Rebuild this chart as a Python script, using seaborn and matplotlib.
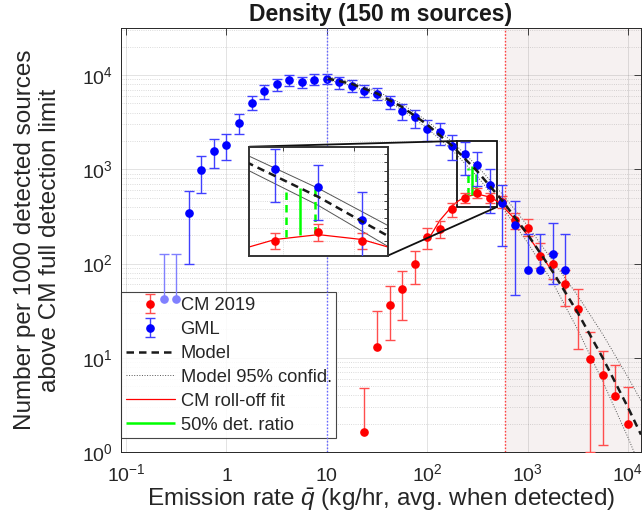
import numpy as np
import matplotlib
matplotlib.use('Agg')
import matplotlib.pyplot as plt
import seaborn as sns
from matplotlib.ticker import LogLocator, NullLocator, FixedLocator
from mpl_toolkits.axes_grid1.inset_locator import mark_inset

# ---------------- data ----------------
GML_X = [0.422, 0.562, 0.750, 1.0, 1.334, 1.778, 2.371, 3.162, 4.217, 5.623, 7.499,
         10.0, 13.34, 17.78, 23.71, 31.62, 42.17, 56.23, 74.99, 100.0, 133.4, 177.8,
         237.1, 316.2, 421.7, 562.3, 749.9, 1000.0, 1334.0, 1778.0, 2371.0]
GML_Y = [340, 978, 1582, 1832, 3134, 5110, 6730, 8050, 8880, 8390, 8950,
         9080, 8390, 7740, 6860, 6340, 5240, 4200, 3560, 2660, 2470, 1770,
         1445, 1100, 680, 434, 255, 84.5, 84.5, 127, 84.5]
GML_LO = [99, 567, 1045, 1271, 2400, 4236, 5627, 6860, 7740, 7250, 7940,
          8050, 7180, 6680, 5870, 5500, 4370, 3310, 2750, 2000, 1830, 1250,
          880, 673, 348, 154, 46.6, None, None, 60, None]
GML_HI = [582, 1387, 2085, 2400, 3840, 6030, 7850, 9180, 10150, 9660, 10190,
          10350, 9570, 8820, 7940, 7370, 6050, 4990, 4270, 3310, 3100, 2317,
          1935, 1530, 1020, 690, 459, 205, 205, 270, 205]
# faint GML bins (upper bound only)
GML_FAINT_X = [0.237, 0.316]
GML_FAINT_Y = [42, 42]
GML_FAINT_LO = [None, None]
GML_FAINT_HI = [126, 126]

CM_X = [23.71, 31.62, 42.17, 56.23, 74.99, 100.0, 133.4, 177.8, 237.1, 316.2, 421.7,
        562.3, 749.9, 1000.0, 1334.0, 1778.0, 2371.0, 3162.0, 4217.0, 5623.0, 7499.0, 10000.0]
CM_Y = [1.62, 13.0, 36.2, 53.5, 99.3, 190, 233, 375, 498, 567, 498,
        450, 288, 239, 121, 98, 60, 33, 9.7, 6.5, 3.9, 2.0]
CM_LO = [None, None, 15.3, 24.9, 60, 142, 185, 310, 440, 494, 440,
         390, 230, 195, 90, 69, 35.6, 12.3, 1.0, 1.2, None, None]
CM_HI = [4.8, 31.3, 57.2, 82.5, 136, 236, 284, 434, 558, 641, 560,
         515, 340, 294, 165, 128, 84.5, 53.5, 18.6, 11.9, 8.3, 4.9]

MODEL_X = [10, 17.78, 31.62, 56.23, 100, 177.8, 316.2, 562.3, 1000, 1778, 3162, 5623, 10000, 13490]
MODEL_Y = [9250, 8060, 6390, 4590, 2990, 1770, 952, 463, 205, 82.2, 30.1, 9.93, 2.98, 1.53]
CONF_HI = [9575, 8440, 6770, 4920, 3260, 1963, 1080, 544, 252, 107, 45.6, 17.7, 6.23, 3.51]
CONF_LO = [8935, 7700, 6030, 4280, 2740, 1596, 839, 394, 167, 63.1, 19.9, 5.58, 1.43, 0.668]

FIT_X = [100, 133.4, 177.8, 200.4, 237.1, 316.2, 421.7, 498.9, 562.3, 749.9, 1000, 1334, 1778]
FIT_Y = [172.6, 286, 409, 456, 508, 546, 508, 456, 409, 295, 200, 129, 81.3]

GREEN_X = [280]
GREEN_LO = [540]
GREEN_HI = [1081]
GREEN_DASH_X = [255, 309]
GREEN_DASH_LO = [530, 551]
GREEN_DASH_HI = [1045, 1091]

DET_LIMIT = 600
REF_X = 10

XTICKS = [0.1, 1, 10, 100, 1000, 10000]
XTICKLABELS = [r'$10^{-1}$', r'$1$', r'$10$', r'$10^{2}$', r'$10^{3}$', r'$10^{4}$']
YTICKS = [1, 10, 100, 1000, 10000]
YTICKLABELS = [r'$10^{0}$', r'$10^{1}$', r'$10^{2}$', r'$10^{3}$', r'$10^{4}$']

# ---------------- style ----------------
sns.set_theme(style='white')
plt.rcParams['font.family'] = ['Liberation Sans', 'DejaVu Sans']
plt.rcParams['mathtext.fontset'] = 'custom'
plt.rcParams['mathtext.rm'] = 'Liberation Sans'
plt.rcParams['mathtext.it'] = 'Liberation Sans:italic'
plt.rcParams['mathtext.bf'] = 'Liberation Sans:bold'
FS_TICK = 14
FS_LAB = 17.5
FS_TITLE = 16.5
FS_LEG = 13.2
AXC = '#262626'

BLUE = (0, 0, 1)
BLUE_E = (0.25, 0.25, 1.0)
RED = (1, 0, 0)
RED_E = (1.0, 0.3, 0.3)
GREEN = (0, 1, 0)


def errbars(a, x, y, lo, hi, color, ecolor, ms=5.2, z=3):
    x = np.asarray(x, float)
    y = np.asarray(y, float)
    lo = np.array([np.nan if v is None else v for v in lo], float)
    hi = np.asarray(hi, float)
    full = ~np.isnan(lo)
    kw = dict(fmt='o', color=color, mec=color, ecolor=ecolor, ms=ms, capsize=3.6,
              elinewidth=1.0, capthick=1.0, zorder=z)
    cont = None
    if full.any():
        cont = a.errorbar(x[full], y[full], yerr=[y[full] - lo[full], hi[full] - y[full]], **kw)
    part = ~full
    if part.any():
        c2 = a.errorbar(x[part], y[part], yerr=[np.zeros(part.sum()), hi[part] - y[part]], **kw)
        c2.lines[1][0].set_visible(False)
        if cont is None:
            cont = c2
    return cont


def draw_curves(a, conf_ls):
    sns.lineplot(x=MODEL_X, y=CONF_LO, ax=a, color='#555555', lw=0.7, linestyle=conf_ls,
                 errorbar=None, sort=False, zorder=2)
    sns.lineplot(x=MODEL_X, y=CONF_HI, ax=a, color='#555555', lw=0.7, linestyle=conf_ls,
                 errorbar=None, sort=False, zorder=2)
    h_conf = a.lines[-1]
    sns.lineplot(x=FIT_X, y=FIT_Y, ax=a, color='red', lw=0.9, errorbar=None, sort=False,
                 zorder=2.5)
    h_fit = a.lines[-1]
    sns.lineplot(x=MODEL_X, y=MODEL_Y, ax=a, color='k', lw=1.8, linestyle=(0, (3, 2)),
                 errorbar=None, sort=False, zorder=4)
    h_model = a.lines[-1]
    h_green = a.vlines(GREEN_X, GREEN_LO, GREEN_HI, colors=[GREEN], lw=1.8, zorder=2.6)
    a.vlines(GREEN_DASH_X, GREEN_DASH_LO, GREEN_DASH_HI, colors=[GREEN], lw=1.8,
             linestyles=[(0, (3, 2))], zorder=2.6)
    return h_model, h_conf, h_fit, h_green


fig = plt.figure(figsize=(6.44, 5.21), dpi=100)
ax = fig.add_axes([121 / 644, 1 - 452 / 521, 520 / 644, 424 / 521])
ax.set_xscale('log')
ax.set_yscale('log')
XMIN, XMAX = 0.089, 13500
ax.set_xlim(XMIN, XMAX)
ax.set_ylim(1, 10 ** 4.5)
ax.set_facecolor('white')
ax.set_axisbelow(True)

ax.axvspan(DET_LIMIT, XMAX, color='#f6f1f1', zorder=0.2, lw=0)
ax.axvline(DET_LIMIT, color=(1.0, 0.25, 0.25), lw=1.0, linestyle=(0, (1.2, 1.2)), zorder=1.5)
ax.axvline(REF_X, color=(0.4, 0.4, 1.0), lw=1.0, linestyle=(0, (1.2, 1.2)), zorder=6)

h_model, h_conf, h_fit, h_green = draw_curves(ax, ':')

h_cm = errbars(ax, CM_X, CM_Y, CM_LO, CM_HI, RED, RED_E)
h_gml = errbars(ax, GML_X, GML_Y, GML_LO, GML_HI, BLUE, BLUE_E)
errbars(ax, GML_FAINT_X, GML_FAINT_Y, GML_FAINT_LO, GML_FAINT_HI, (0.5, 0.5, 1.0),
        (0.5, 0.5, 1.0), z=6)

# ticks & grid
ax.xaxis.set_major_locator(FixedLocator(XTICKS))
ax.xaxis.set_minor_locator(NullLocator())
ax.set_xticklabels(XTICKLABELS)
ax.yaxis.set_major_locator(FixedLocator(YTICKS))
ax.yaxis.set_minor_locator(LogLocator(base=10, subs=np.arange(2, 10)))
ax.set_yticklabels(YTICKLABELS)
ax.tick_params(which='major', direction='in', length=5, width=0.6, color=AXC,
               top=True, right=True, labelsize=FS_TICK, labelcolor=AXC)
ax.tick_params(axis='x', pad=21)
ax.tick_params(axis='y', pad=6)
for lab in ax.get_xticklabels():
    lab.set_verticalalignment('baseline')
ax.tick_params(which='minor', length=0)
ax.grid(which='major', color='#262626', alpha=0.15, lw=0.6, ls='-')
ax.grid(which='minor', axis='y', color='#262626', alpha=0.22, lw=0.6, ls=':')
for s in ax.spines.values():
    s.set_color(AXC)
    s.set_linewidth(0.7)

ax.set_title('Density (150 m sources)', fontsize=FS_TITLE, fontweight='bold', pad=5, color='k')
ax.set_xlabel(r'Emission rate $\bar{q}$ (kg/hr, avg. when detected)', fontsize=FS_LAB,
              color=AXC, labelpad=1)
ax.set_ylabel('Number per 1000 detected sources\nabove CM full detection limit',
              fontsize=FS_LAB, color=AXC, labelpad=15, linespacing=1.15)

leg = ax.legend([h_cm, h_gml, h_model, h_conf, h_fit, h_green],
                ['CM 2019', 'GML', 'Model', 'Model 95% confid.', 'CM roll-off fit',
                 '50% det. ratio'],
                loc='lower left', bbox_to_anchor=(0.0, 0.032), fontsize=FS_LEG,
                frameon=True, fancybox=False, edgecolor=AXC, framealpha=0.85,
                handlelength=2.7, handletextpad=0.3, labelspacing=0.38,
                borderpad=0.25, borderaxespad=0)
leg.get_frame().set_linewidth(0.8)
leg.set_zorder(5)

# ---------------- inset ----------------
axins = fig.add_axes([249.3 / 644, 1 - 255.7 / 521, 138.4 / 644, 109 / 521])
axins.set_xscale('log')
axins.set_yscale('log')
axins.set_facecolor('white')
axins.set_axisbelow(True)
draw_curves(axins, '-')
errbars(axins, CM_X, CM_Y, CM_LO, CM_HI, RED, RED_E)
errbars(axins, GML_X, GML_Y, GML_LO, GML_HI, BLUE, BLUE_E)
axins.set_xlim(200, 500)
axins.set_ylim(400, 2000)
axins.xaxis.set_major_locator(FixedLocator([250, 400]))
axins.xaxis.set_minor_locator(NullLocator())
axins.yaxis.set_major_locator(FixedLocator([500, 600, 700, 800, 900, 1000, 1200, 1400, 1600, 1800]))
axins.yaxis.set_minor_locator(NullLocator())
axins.set_xticklabels([])
axins.set_yticklabels([])
axins.tick_params(direction='in', length=3, width=0.6, color=AXC, top=True, right=True)
axins.grid(True, color='#262626', alpha=0.22, lw=0.6, ls=':')
for s in axins.spines.values():
    s.set_color('#333333')
    s.set_linewidth(1.4)

mark_inset(ax, axins, loc1=2, loc2=4, fc='none', ec='#111111', lw=1.3)

fig.savefig('out.png', dpi=100)
